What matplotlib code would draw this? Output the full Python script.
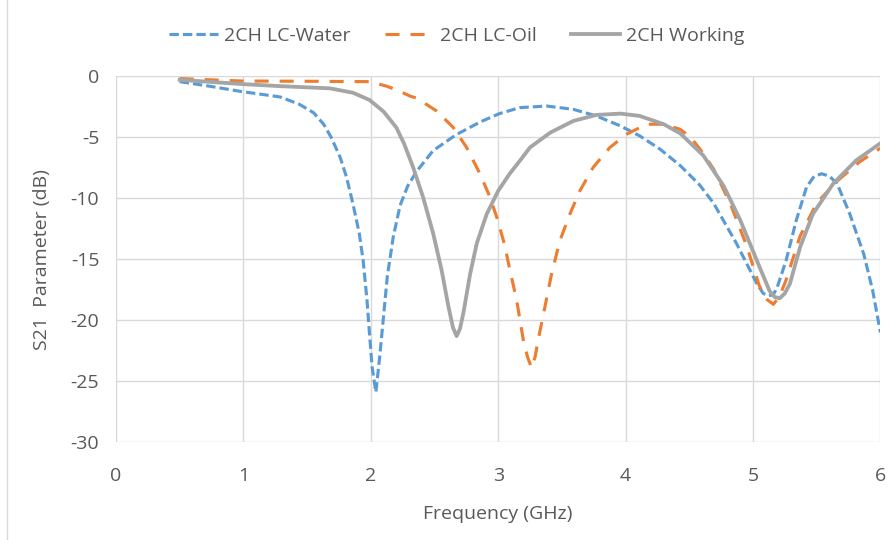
import matplotlib
matplotlib.use("Agg")
import matplotlib.pyplot as plt
from matplotlib.lines import Line2D

plt.rcParams['font.family'] = ['Open Sans', 'DejaVu Sans']
plt.rcParams['axes.unicode_minus'] = False

water_f = [0.5, 0.75, 0.99, 1.15, 1.29, 1.44, 1.55, 1.63, 1.69, 1.76, 1.81, 1.86, 1.91,
           1.94, 1.97, 1.99, 2.01, 2.04, 2.07, 2.10, 2.13, 2.176, 2.23, 2.29, 2.36, 2.49,
           2.67, 2.86, 3.01, 3.17, 3.38, 3.59, 3.77, 3.96, 4.11, 4.27, 4.43, 4.58, 4.69,
           4.87, 5.03, 5.08, 5.12, 5.16, 5.19, 5.26, 5.34, 5.42, 5.48, 5.54, 5.60, 5.66,
           5.76, 5.87, 5.94, 6.0]
water_db = [-0.45, -0.85, -1.27, -1.5, -1.71, -2.31, -2.99, -3.94, -5.03, -6.66, -8.29,
            -10.46, -12.9, -15.1, -18.3, -21.1, -23.8, -25.9, -23.0, -19.7, -16.4, -13.2,
            -10.6, -9.0, -7.8, -6.1, -4.8, -3.75, -3.07, -2.58, -2.45, -2.72, -3.26, -4.08,
            -4.89, -5.98, -7.34, -8.9, -10.4, -13.7, -17.0, -17.8, -18.0, -17.9, -17.3,
            -15.1, -11.8, -9.1, -8.2, -8.0, -8.2, -8.8, -11.3, -14.6, -17.6, -21.0]

oil_f = [0.5, 0.99, 1.5, 1.99, 2.124, 2.22, 2.307, 2.36, 2.516, 2.647, 2.752, 2.857,
         2.935, 2.99, 3.05, 3.092, 3.144, 3.197, 3.23, 3.262, 3.29, 3.314, 3.367, 3.419,
         3.484, 3.563, 3.641, 3.746, 3.877, 4.008, 4.165, 4.296, 4.427, 4.51, 4.60, 4.69,
         4.82, 4.95, 5.05, 5.11, 5.16, 5.21, 5.26, 5.37, 5.50, 5.66, 5.84, 6.0]
oil_db = [-0.2, -0.4, -0.42, -0.45, -0.82, -1.2, -1.63, -1.8, -2.85, -4.2, -5.84, -8.0,
          -9.9, -11.6, -13.8, -15.9, -18.3, -21.6, -23.0, -23.9, -23.0, -21.6, -18.9, -16.2,
          -13.5, -11.3, -9.4, -7.47, -5.84, -4.76, -3.94, -3.94, -4.35, -5.0, -6.2, -7.6,
          -10.4, -13.9, -17.2, -18.3, -18.7, -18.0, -16.7, -13.1, -10.4, -8.6, -7.0, -5.9]

work_f = [0.5, 0.99, 1.29, 1.68, 1.86, 1.99, 2.10, 2.20, 2.26, 2.33, 2.41, 2.49, 2.556,
          2.61, 2.645, 2.674, 2.70, 2.727, 2.78, 2.832, 2.91, 3.0, 3.09, 3.18, 3.25, 3.41,
          3.59, 3.77, 3.96, 4.11, 4.30, 4.43, 4.61, 4.77, 4.90, 5.03, 5.13, 5.17, 5.21,
          5.25, 5.29, 5.37, 5.47, 5.63, 5.81, 6.0]
work_db = [-0.3, -0.65, -0.82, -1.0, -1.36, -1.95, -2.9, -4.2, -5.5, -7.4, -9.9, -12.9,
           -15.9, -18.9, -20.6, -21.3, -20.7, -19.4, -16.2, -13.7, -11.3, -9.4, -8.0, -6.8,
           -5.84, -4.62, -3.67, -3.18, -3.07, -3.26, -3.94, -4.7, -6.5, -9.0, -11.8, -15.1,
           -17.6, -18.1, -18.2, -17.8, -17.0, -14.0, -11.3, -8.8, -6.9, -5.5]

x_ticks = [0, 1, 2, 3, 4, 5, 6]
y_ticks = [0, -5, -10, -15, -20, -25, -30]
labels = ["2CH LC-Water", "2CH LC-Oil", "2CH Working"]
colors = ["#5B9BD5", "#ED7D31", "#A5A5A5"]
txt = "#595959"

fig = plt.figure(figsize=(8.92, 5.40), dpi=100)
ax = fig.add_axes([0.130, 0.181, 0.857, 0.678])

lw = 2.25
l1, = ax.plot(water_f, water_db, color=colors[0], lw=lw, dashes=(3, 1.3),
              dash_capstyle='butt', dash_joinstyle='round')
l2, = ax.plot(oil_f, oil_db, color=colors[1], lw=lw, dashes=(4.5, 3.5),
              dash_capstyle='butt', dash_joinstyle='round')
l3, = ax.plot(work_f, work_db, color=colors[2], lw=lw + 0.5, solid_joinstyle='round')

ax.set_xlim(0, 6)
ax.set_ylim(-30, 0)
ax.set_xticks(x_ticks)
ax.set_yticks(y_ticks)
ax.grid(True, color="#D9D9D9", lw=1)
ax.set_axisbelow(True)
for s in ax.spines.values():
    s.set_visible(False)
ax.tick_params(axis='x', length=0, labelsize=14, colors=txt, pad=18)
ax.tick_params(axis='y', length=0, labelsize=14, colors=txt, pad=12)
ax.set_xlabel("Frequency (GHz)", fontsize=14, color=txt, labelpad=14)
ax.set_ylabel("S21  Parameter (dB)", fontsize=14, color=txt, labelpad=14)

fig.legend([l1, l2, l3], labels, loc='center', bbox_to_anchor=(0.512, 0.933),
           ncol=3, frameon=False, fontsize=14, labelcolor=txt,
           handlelength=2.5, columnspacing=1.8, handletextpad=0.3)

fig.add_artist(Line2D([0.008, 0.008], [0, 1], color="#D9D9D9", lw=1, transform=fig.transFigure))

fig.savefig("out.png", dpi=100)
